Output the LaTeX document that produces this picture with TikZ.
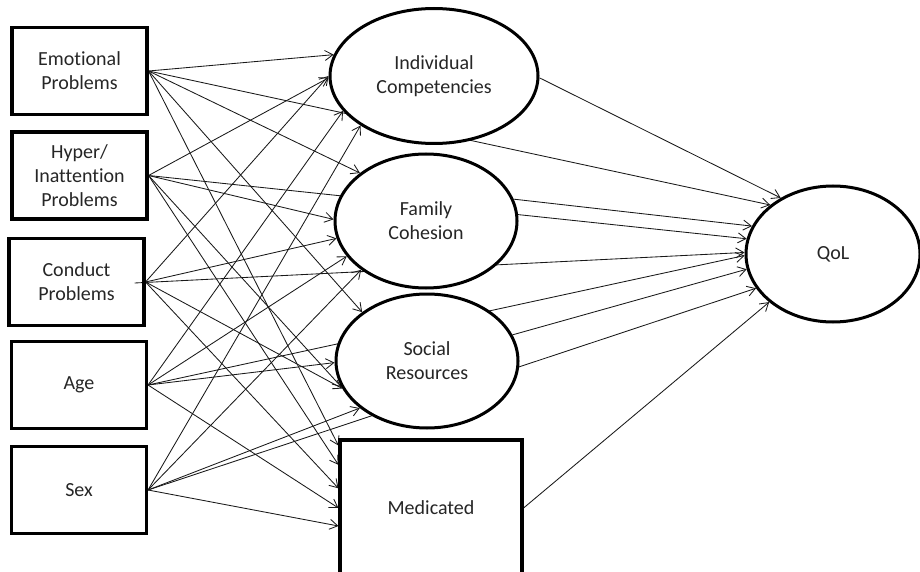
\documentclass[tikz,border=0pt]{standalone}
\usepackage{fontspec}
\setmainfont{Carlito}[Ligatures=NoCommon]
\usetikzlibrary{arrows.meta,shapes.geometric,calc}
\pgfdeclarelayer{links}
\pgfsetlayers{links,main}
\begin{document}
\begin{tikzpicture}[x=1pt,y=-1pt,
  lbl/.style={font=\fontsize{20}{24}\selectfont, text=black!85, align=center},
  factor/.style={lbl, draw, line width=3.1pt, rectangle, minimum width=135pt,
    minimum height=87pt, inner sep=0pt},
  latent/.style={lbl, draw, line width=3pt, ellipse, fill=white, inner sep=0pt},
  effect/.style={line width=0.85pt, black!90, -{Straight Barb[length=8pt,width=10pt]}}]
\useasboundingbox (0,0) rectangle (920,572);

% predictors
\node[factor] (emo) at (79.5,71)  {Emotional\\Problems};
\node[factor] (hyp) at (79.5,175.5) {Hyper/\\Inattention\\Problems};
\node[factor] (con) at (76.5,282) {Conduct\\Problems};
\node[factor] (age) at (79,385)   {Age};
\node[factor] (sex) at (79,490)   {Sex};

% mediators
\node[latent, minimum width=208pt, minimum height=135pt] (ic) at (434,76) {Individual\\Competencies};
\node[latent, minimum width=182pt, minimum height=134pt] (fc) at (426,221) {Family\\Cohesion};
\node[latent, minimum width=182pt, minimum height=134pt] (sr) at (427,361) {Social\\Resources};
\node[factor, fill=white, minimum width=182pt, minimum height=136pt] (med) at (431,508) {Medicated};

% outcome
\node[latent, minimum width=174pt, minimum height=136pt] (qol) at (833,254) {QoL};

\begin{pgfonlayer}{links}
  % into Individual Competencies
  \draw[effect] (emo.east) -- (ic.168);
  \draw[effect] (hyp.east) -- (ic.181);
  \draw[effect] (con.east) -- (ic.180);
  \draw[effect] (age.east) -- (ic.201);
  \draw[effect] (sex.east) -- (ic.214);
  % into Family Cohesion
  \draw[effect] (emo.east) -- (fc.144);
  \draw[effect] (hyp.east) -- (fc.179);
  \draw[effect] (con.east) -- (fc.191);
  \draw[effect] (age.east) -- (fc.204);
  \draw[effect] (sex.east) -- (fc.217);
  % into Social Resources
  \draw[effect] (emo.east) -- (sr.143);
  \draw[effect] (hyp.east) -- (sr.197);
  \draw[effect] (con.east) -- (sr.198);
  \draw[effect] (age.east) -- (sr.181);
  \draw[effect] (sex.east) -- (sr.215);
  % into Medicated
  \draw[effect] (emo.east) -- (med.146);
  \draw[effect] (hyp.east) -- (med.155);
  \draw[effect] (con.east) -- (med.168);
  \draw[effect] (age.east) -- (med.180);
  \draw[effect] (sex.east) -- (med.191);
  % into QoL
  \draw[effect] (ic.359) -- (qol.133);
  \draw[effect] (emo.east) -- (qol.142);
  \draw[effect] (fc.14) -- (qol.161);
  \draw[effect] (hyp.east) -- (qol.170);
  \draw[effect] ($(con.east)+(-11,1)$) -- (qol.179);
  \draw[effect] (age.east) -- (qol.181);
  \draw[effect] (sr.17) -- (qol.190);
  \draw[effect] (sex.east) -- (qol.204);
  \draw[effect] (med.0) -- (qol.217);
\end{pgfonlayer}
\end{tikzpicture}
\end{document}
